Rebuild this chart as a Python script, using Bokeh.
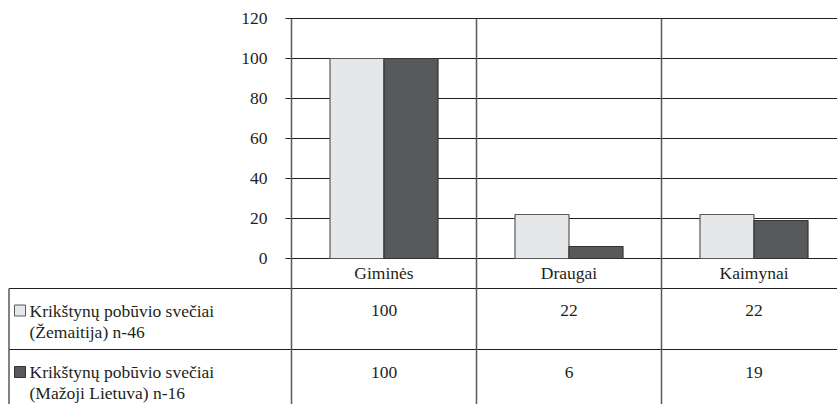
from bokeh.plotting import figure
from bokeh.models import Range1d
from bokeh.core.properties import value
from bokeh.embed import file_html
from bokeh.resources import INLINE

# ---- data ----
categories = ["Giminės", "Draugai", "Kaimynai"]
series_names = [["Krikštynų pobūvio svečiai", "(Žemaitija) n-46"],
                ["Krikštynų pobūvio svečiai", "(Mažoji Lietuva) n-16"]]
zemaitija = [100, 22, 22]
mazoji_lietuva = [100, 6, 19]
y_ticks = [0, 20, 40, 60, 80, 100, 120]

# ---- layout constants (pixels) ----
W, H = 837, 404
PX_PER_CAT = 185.0
PX_PER_UNIT = 2.0           # 2 px per y unit
AXIS_PX = 291               # x position of category axis origin inside figure
ZERO_PX = 258               # y position of value 0 from figure top
FS = "17.5px"
BLACK = "#231f20"
GRAY = "#58595b"
LIGHT = "#e6e7e8"
DARK = "#58595b"


def txt(**kw):
    p.text(text_font=value("Liberation Serif"), text_font_size=FS,
           text_color=BLACK, text_baseline="middle", **kw)


x_start = -AXIS_PX / PX_PER_CAT
x_end = (W - AXIS_PX) / PX_PER_CAT
y_end = ZERO_PX / PX_PER_UNIT
y_start = -(H - ZERO_PX) / PX_PER_UNIT

def px_x(d):
    return d / PX_PER_CAT

def px_y(d):
    return d / PX_PER_UNIT

p = figure(width=W, height=H, output_backend="svg", toolbar_location=None,
           x_range=Range1d(x_start, x_end), y_range=Range1d(y_start, y_end),
           min_border=0)
p.axis.visible = False
p.grid.visible = False
p.outline_line_color = None
p.background_fill_color = "white"

n = len(categories)
centers = [i + 0.5 for i in range(n)]
bw = 54 / PX_PER_CAT
ymax = y_ticks[-1]

# horizontal gridlines (with tick marks)
p.segment(x0=[-px_x(6)] * len(y_ticks), x1=[x_end] * len(y_ticks),
          y0=y_ticks, y1=y_ticks, line_color=BLACK, line_width=1.2)

# bars
p.vbar(x=[c - bw / 2 for c in centers], top=zemaitija, bottom=0, width=bw,
       fill_color=LIGHT, line_color=GRAY, line_width=1.2)
p.vbar(x=[c + bw / 2 for c in centers], top=mazoji_lietuva, bottom=0, width=bw,
       fill_color=DARK, line_color="#333333", line_width=1.2)

# table rows
row_top = -px_y(30)
row_mid = -px_y(91)
left_edge = x_start + px_x(8.5)
p.segment(x0=[left_edge, left_edge], x1=[x_end, x_end], y0=[row_top, row_mid], y1=[row_top, row_mid],
          line_color=BLACK, line_width=1.2)

# vertical lines: axis and category boundaries
p.segment(x0=list(range(n)), x1=list(range(n)), y0=[ymax] * n, y1=[y_start] * n,
          line_color=GRAY, line_width=1.5)
p.segment(x0=[left_edge], x1=[left_edge], y0=[row_top], y1=[y_start],
          line_color=GRAY, line_width=1.5)

# y tick labels
txt(x=[-px_x(24)] * len(y_ticks), y=y_ticks, text=[str(t) for t in y_ticks],
    text_align="right")

# category labels
txt(x=centers, y=[-px_y(14)] * n, text=categories, text_align="center")

# table values
row_val_y = [-px_y(52), -px_y(113.5)]
for vals, yy in zip([zemaitija, mazoji_lietuva], row_val_y):
    txt(x=centers, y=[yy] * n, text=[str(v) for v in vals], text_align="center")

# row labels with legend squares
label_x = x_start + px_x(29)
sq_x = x_start + px_x(19.5)
line1_y = [-px_y(52), -px_y(113.5)]
line2_y = [-px_y(73), -px_y(134.5)]
p.scatter(x=[sq_x, sq_x], y=line1_y, marker="square", size=11,
          fill_color=[LIGHT, DARK], line_color=[GRAY, "#333333"], line_width=1)
txt(x=[label_x, label_x], y=line1_y, text=[s[0] for s in series_names], text_align="left")
txt(x=[label_x, label_x], y=line2_y, text=[s[1] for s in series_names], text_align="left")

open("out.html", "w").write(file_html(p, INLINE))
